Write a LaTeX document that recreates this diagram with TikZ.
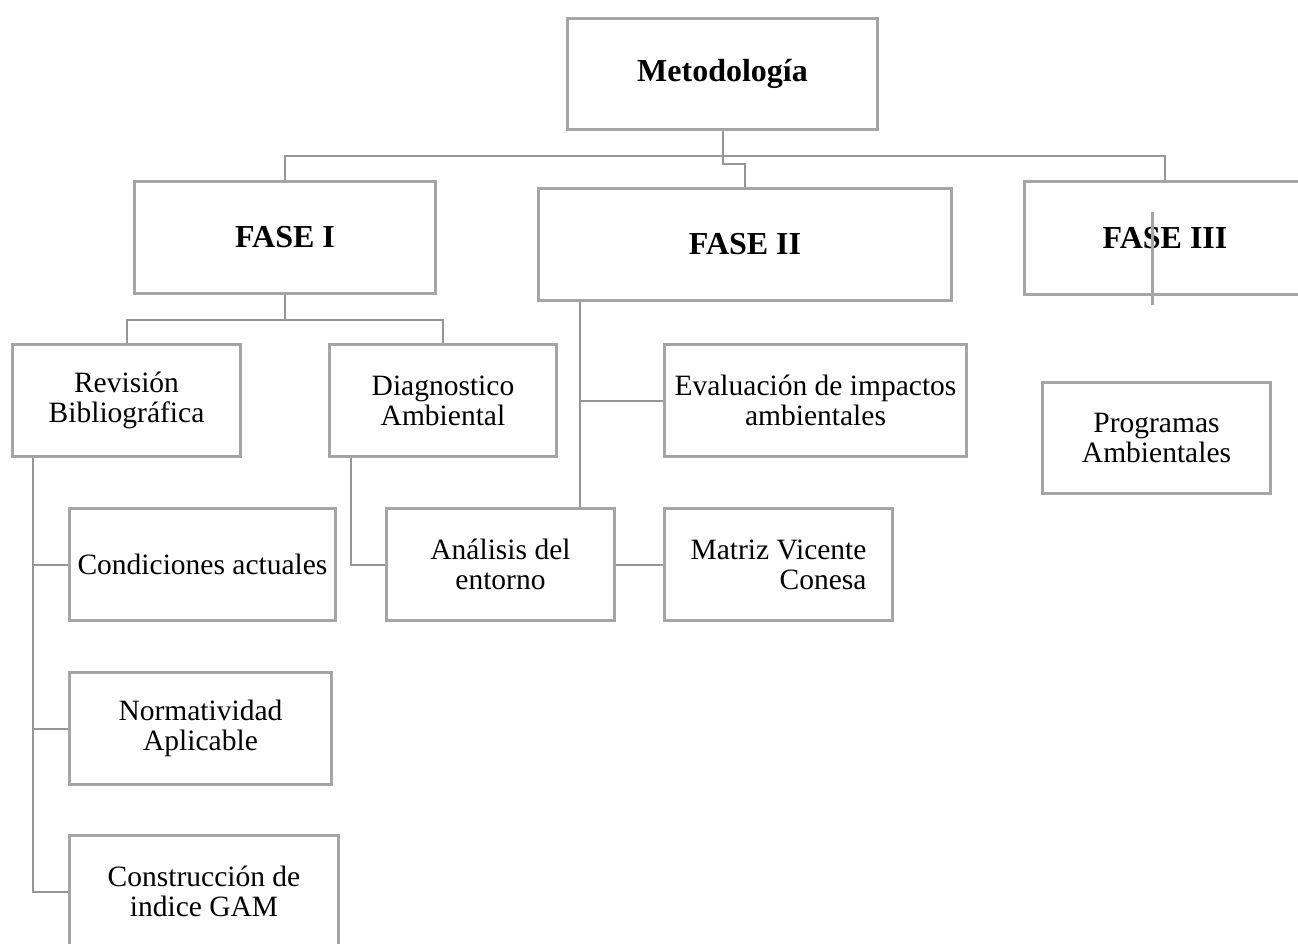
\documentclass[tikz,border=0pt]{standalone}
\usepackage{fontspec}
\setmainfont{Liberation Serif}
\usetikzlibrary{positioning}
\definecolor{bordegris}{RGB}{165,165,165}
\definecolor{lineagris}{RGB}{150,150,150}

\begin{document}
\begin{tikzpicture}[x=1pt, y=-1pt,
    caja/.style={draw=bordegris, line width=3pt, rectangle, align=center, inner sep=0pt,
      minimum height=112pt, font=\fontsize{29.5}{30}\selectfont},
    fase/.style={caja, font=\bfseries\fontsize{32}{36}\selectfont},
    linea/.style={draw=lineagris, line width=2pt}]
    \useasboundingbox (0,0) rectangle (1298,943);
    \node[fase, minimum width=310pt, minimum height=111pt] (meto) at (722.5,74) {Metodología};
    \node[fase, minimum width=301pt] (f1) at (285,237.5) {FASE I};
    \node[fase, minimum width=413pt] (f2) at (745,244.5) {FASE II};
    \node[fase, minimum width=281pt, minimum height=113pt] (f3) at (1165,238) {FASE III};
    \node[caja, minimum width=228pt] (rev) at (126.5,400.5) {Revisión\\Bibliográfica};
    \node[caja, minimum width=227pt] (diag) at (443,400.5) {Diagnostico\\Ambiental};
    \node[caja, minimum width=266pt] (cond) at (202.5,564.5) {Condiciones actuales};
    \node[caja, minimum width=262pt] (norm) at (200.5,728.5) {Normatividad\\Aplicable};
    \node[caja, minimum width=269pt] (cons) at (204,891.5) {Construcción de\\indice GAM};
    \node[caja, minimum width=228pt] (anal) at (500.5,564.5) {Análisis del\\entorno};
    \node[caja, minimum width=302pt] (eval) at (815.5,400.5) {Evaluación de impactos\\ambientales};
    \node[caja, minimum width=228pt, align=right] (matriz) at (778.5,564.5) {Matriz Vicente\\Conesa};
    \node[caja, minimum width=228pt, minimum height=111pt] (prog) at (1156.5,438) {Programas\\Ambientales};

    \draw[linea] (meto.south) -- ++(0,25) -| (f1.north);
    \draw[linea] (meto.south) -- ++(0,25) -| (f3.north);
    \draw[linea] (meto.south) -- ++(0,33) -| (f2.north);
    \draw[linea] (f1.south) -- ++(0,25) -| (rev.north);
    \draw[linea] (f1.south) -- ++(0,25) -| (diag.north);
    \coordinate (revbase) at ([xshift=22pt]rev.south west);
    \draw[linea] (revbase) |- (cond.west);
    \draw[linea] (revbase) |- (norm.west);
    \draw[linea] (revbase) |- (cons.west);
    \draw[linea] ([xshift=23pt]diag.south west) |- (anal.west);
    \coordinate (f2base) at ([xshift=43pt]f2.south west);
    \draw[linea] (f2base) |- (eval.west);
    \draw[linea] (f2base) -- (f2base |- anal.north);
    \draw[linea] (anal.east) -- (matriz.west);
    \coordinate (marca) at (1152,212);
    \draw[draw=bordegris, line width=3pt] (marca) -- ++(0,93);
\end{tikzpicture}
\end{document}
